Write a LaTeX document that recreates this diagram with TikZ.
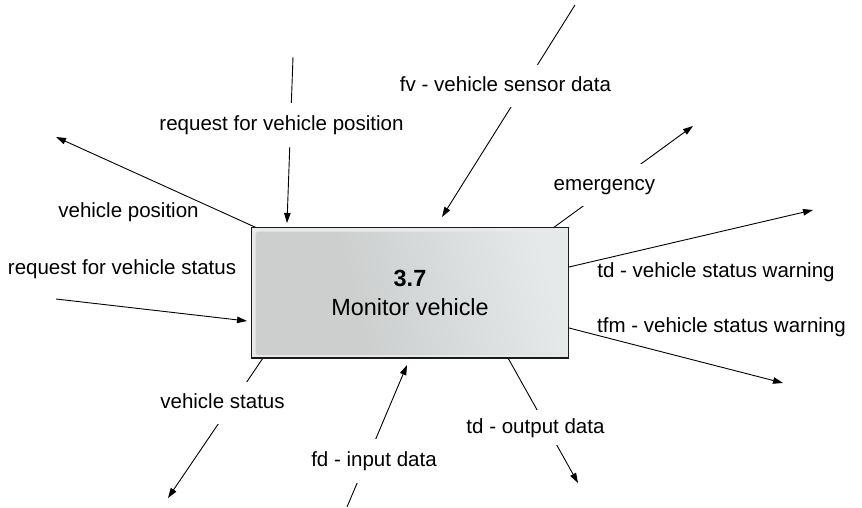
\documentclass[tikz,border=0pt]{standalone}
\usepackage{fontspec}
\setmainfont{Liberation Sans}
\usetikzlibrary{arrows.meta,backgrounds,calc}
\definecolor{panelL}{HTML}{CCCFCE}
\definecolor{panelM}{HTML}{D8DBDC}
\definecolor{panelR}{HTML}{E6E9EA}
\definecolor{rim}{HTML}{E8EAEA}
\definecolor{edge}{HTML}{1A1A1A}
% left part stays flat grey, then lightens towards the right
\pgfdeclarehorizontalshading{panelshade}{100bp}{color(0bp)=(panelL); color(40bp)=(panelL);
  color(56bp)=(panelM); color(75bp)=(panelR); color(100bp)=(panelR)}
\begin{document}
\begin{tikzpicture}[x=1bp,y=-1bp,
  flow/.style={line width=0.9bp, draw=black, -{Triangle[length=10bp,width=6.5bp]}},
  lbl/.style={font=\fontsize{20.6}{24}\selectfont, inner xsep=1bp, inner ysep=0bp,
              text height=15bp, text depth=4bp},
  gaplbl/.style={lbl, fill=white, inner ysep=11.5bp},
  process/.style={draw=edge, line width=1.6bp, fill=rim, inner sep=0pt, align=center,
    font=\fontsize{23.5}{29}\selectfont,
    path picture={
      \shade[shading=panelshade, shading angle=15, rounded corners=3bp]
        ($(path picture bounding box.south west)+(4bp,2.5bp)$) rectangle
        ($(path picture bounding box.north east)+(-3bp,-4bp)$);
    }}]
\useasboundingbox (0,0) rectangle (862,508);

% the process
\node[process, minimum width=317bp, minimum height=130bp] (box) at (410,292.7)
  {{\bfseries 3.7}\\Monitor vehicle};

% flow labels
\node[lbl] (l-vpos) at (128.5,212.5) {vehicle position};
\node[lbl] (l-rvs) at (122,269) {request for vehicle status};
\node[gaplbl, inner ysep=12.5bp] (l-rvp) at (281.5,125) {request for vehicle position};
\node[gaplbl] (l-fv) at (505.5,86.5) {fv - vehicle sensor data};
\node[gaplbl] (l-em) at (604.5,185) {emergency};
\node[lbl] (l-tdw) at (716,272) {td - vehicle status warning};
\node[lbl] (l-tfm) at (721.5,327) {tfm - vehicle status warning};
\node[gaplbl, inner ysep=8bp] (l-tdo) at (535.5,427.5) {td - output data};
\node[gaplbl, inner ysep=12.5bp] (l-fd) at (374,460.5) {fd - input data};
\node[gaplbl] (l-vst) at (222.5,402.5) {vehicle status};

% flow end points
\coordinate (vpos-a) at (257,228);  \coordinate (vpos-b) at (56,137);
\coordinate (rvs-a)  at (56,299);   \coordinate (rvs-b)  at (247,321);
\coordinate (rvp-a)  at (293,57);   \coordinate (rvp-b)  at (287,223);
\coordinate (fv-a)   at (575,5);    \coordinate (fv-b)   at (442,217);
\coordinate (em-a)   at (553,228);  \coordinate (em-b)   at (693,126);
\coordinate (tdw-a)  at (569,267);  \coordinate (tdw-b)  at (813,210);
\coordinate (tfm-a)  at (569,328);  \coordinate (tfm-b)  at (783,383);
\coordinate (tdo-a)  at (508,358);  \coordinate (tdo-b)  at (578,483);
\coordinate (fd-a)   at (347,507);  \coordinate (fd-b)   at (407,365);
\coordinate (vst-a)  at (263,358);  \coordinate (vst-b)  at (168,498);

% flows run behind their labels
\begin{scope}[on background layer]
  \draw[flow] (vpos-a) -- (vpos-b);
  \draw[flow] (rvs-a) -- (rvs-b);
  \draw[flow] (rvp-a) -- (rvp-b);
  \draw[flow] (fv-a) -- (fv-b);
  \draw[flow] (em-a) -- (em-b);
  \draw[flow] (tdw-a) -- (tdw-b);
  \draw[flow] (tfm-a) -- (tfm-b);
  \draw[flow] (tdo-a) -- (tdo-b);
  \draw[flow] (fd-a) -- (fd-b);
  \draw[flow] (vst-a) -- (vst-b);
\end{scope}
\end{tikzpicture}
\end{document}
